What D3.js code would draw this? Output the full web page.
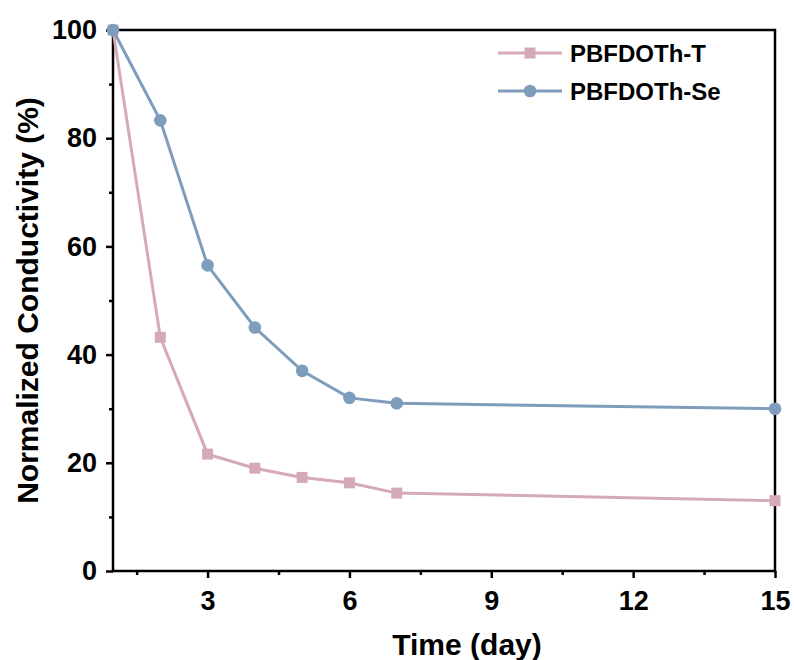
<!DOCTYPE html>
<html>
<head>
<meta charset="utf-8">
<script src="https://cdn.jsdelivr.net/npm/d3@7"></script>
<style>
  body { margin: 0; background: #fff; }
  text { font-family: "Liberation Sans", Arial, sans-serif; font-weight: bold; }
</style>
</head>
<body>
<div id="chart"></div>
<script>
var days = [1, 2, 3, 4, 5, 6, 7, 15];
var seriesT = [100, 43.2, 21.6, 19.0, 17.3, 16.3, 14.4, 13.0];
var seriesSe = [100, 83.3, 56.5, 45.0, 37.0, 32.0, 31.0, 30.0];
var seriesNames = ['PBFDOTh-T', 'PBFDOTh-Se'];
var seriesColors = ['#d6a9b6', '#7e9dbc'];
var xTicks = [3, 6, 9, 12, 15];
var xMinor = [1.5, 4.5, 7.5, 10.5, 13.5];
var yTicks = [0, 20, 40, 60, 80, 100];
var yMinor = [10, 30, 50, 70, 90];

var W = 794, H = 660;
var margin = {left: 113, right: 19, top: 30, bottom: 89};

var svg = d3.select('#chart').append('svg')
    .attr('width', W)
    .attr('height', H);

var x = d3.scaleLinear().domain([1, 15]).range([margin.left, W - margin.right]);
var y = d3.scaleLinear().domain([0, 100]).range([H - margin.bottom, margin.top]);

// frame
svg.append('rect')
    .attr('x', x(1)).attr('y', y(100))
    .attr('width', x(15) - x(1)).attr('height', y(0) - y(100))
    .attr('fill', 'none').attr('stroke', '#000').attr('stroke-width', 2.5);

function styleAxis(g) {
  g.select('.domain').remove();
  g.selectAll('.tick line').attr('stroke', '#000').attr('stroke-width', 2.5);
  g.selectAll('.tick text').attr('font-size', 27).attr('fill', '#000');
}

svg.append('g')
    .attr('transform', 'translate(0,' + y(0) + ')')
    .call(d3.axisBottom(x).tickValues(xTicks).tickSize(7).tickPadding(13))
    .call(styleAxis);
svg.append('g')
    .attr('transform', 'translate(0,' + y(0) + ')')
    .call(d3.axisBottom(x).tickValues(xMinor).tickSize(4).tickFormat(''))
    .call(styleAxis);

svg.append('g')
    .attr('transform', 'translate(' + x(1) + ',0)')
    .call(d3.axisLeft(y).tickValues(yTicks).tickSize(7).tickPadding(9))
    .call(styleAxis);
svg.append('g')
    .attr('transform', 'translate(' + x(1) + ',0)')
    .call(d3.axisLeft(y).tickValues(yMinor).tickSize(4).tickFormat(''))
    .call(styleAxis);

svg.append('text')
    .attr('x', 467).attr('y', 655)
    .attr('text-anchor', 'middle').attr('font-size', 30)
    .text('Time (day)');

svg.append('text')
    .attr('transform', 'translate(38,' + (y(50)) + ') rotate(-90)')
    .attr('text-anchor', 'middle').attr('font-size', 30)
    .text('Normalized Conductivity (%)');

var line = d3.line()
    .x(function (d) { return x(d[0]); })
    .y(function (d) { return y(d[1]); });

function drawSeries(vals, color, shape) {
  var pts = days.map(function (d, i) { return [d, vals[i]]; });
  svg.append('path')
      .datum(pts)
      .attr('d', line)
      .attr('fill', 'none')
      .attr('stroke', color)
      .attr('stroke-width', 3);
  var sym = d3.symbol().type(shape === 'square' ? d3.symbolSquare : d3.symbolCircle)
      .size(shape === 'square' ? 121 : 125);
  svg.append('g').selectAll('path')
      .data(pts)
      .join('path')
      .attr('transform', function (d) { return 'translate(' + x(d[0]) + ',' + y(d[1]) + ')'; })
      .attr('d', sym)
      .attr('fill', color);
}

drawSeries(seriesT, seriesColors[0], 'square');
drawSeries(seriesSe, seriesColors[1], 'circle');

// legend
var legend = svg.append('g');
seriesNames.forEach(function (name, i) {
  var ly = 53 + i * 38;
  legend.append('line')
      .attr('x1', 498).attr('x2', 562).attr('y1', ly).attr('y2', ly)
      .attr('stroke', seriesColors[i]).attr('stroke-width', 3);
  legend.append('path')
      .attr('transform', 'translate(530,' + ly + ')')
      .attr('d', d3.symbol().type(i === 0 ? d3.symbolSquare : d3.symbolCircle).size(i === 0 ? 121 : 125))
      .attr('fill', seriesColors[i]);
  legend.append('text')
      .attr('x', 570).attr('y', ly + 9)
      .attr('font-size', 24)
      .text(name);
});
</script>
</body>
</html>
